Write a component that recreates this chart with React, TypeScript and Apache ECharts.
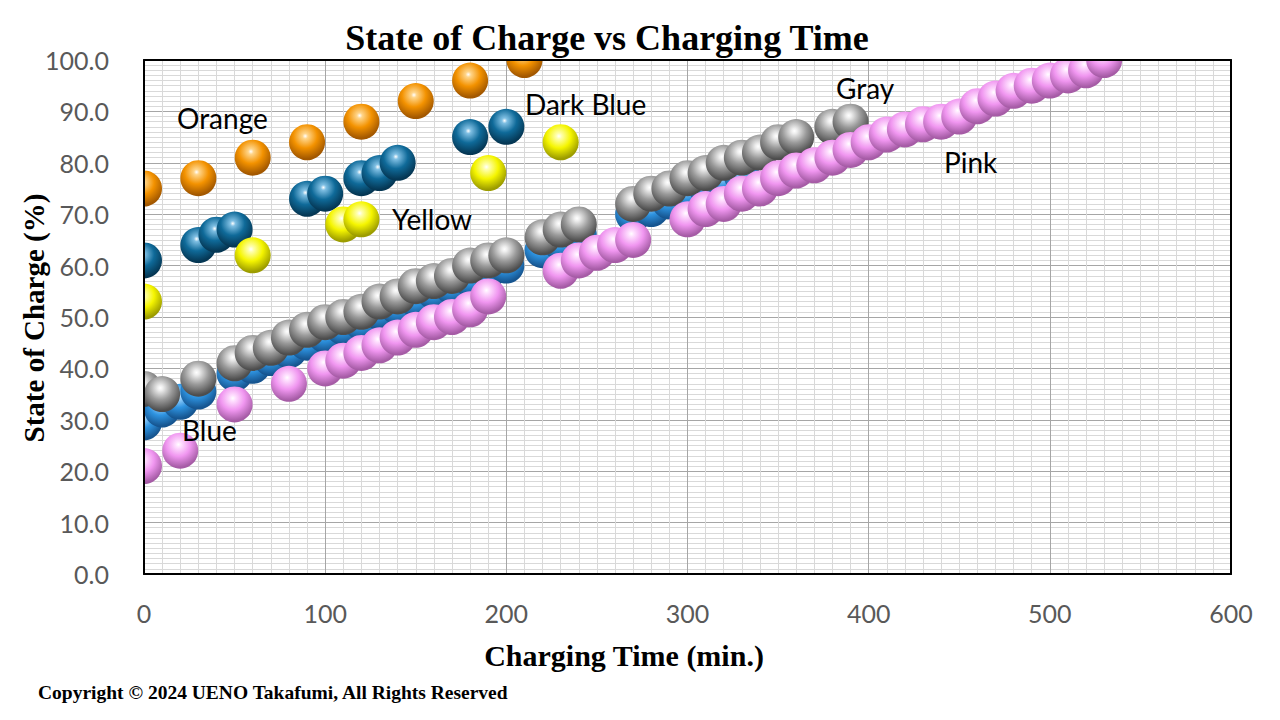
import React, { useEffect, useRef } from "react";
import * as echarts from "echarts";

// ---- data (charging time in min., state of charge in %) ----
const orangeTime = [0, 30, 60, 90, 120, 150, 180, 210];
const orangeSoc = [75, 77, 81, 84, 88, 92, 96, 100];

const darkBlueTime = [0, 30, 40, 50, 90, 100, 120, 130, 140, 180, 200];
const darkBlueSoc = [61, 64, 66, 67, 73, 74, 77, 78, 80, 85, 87];

const yellowTime = [0, 60, 110, 120, 190, 230];
const yellowSoc = [53, 62, 68, 69, 78, 84];

const blueTime = [0, 10, 20, 30, 50, 60, 70, 80, 90, 100, 110, 120, 130, 140, 150, 160, 170, 180, 190, 200, 220, 230, 240, 270, 280, 290, 300, 310, 320, 330];
const blueSoc = [29.5, 32, 33.5, 35.5, 39, 40.5, 42, 43.5, 45, 46.5, 48, 49, 51, 52, 53.5, 55, 56, 57.5, 59, 60, 63, 64.5, 66, 70, 71, 72.5, 74, 75.5, 76.5, 77.5];

const grayTime = [0, 10, 30, 50, 60, 70, 80, 90, 100, 110, 120, 130, 140, 150, 160, 170, 180, 190, 200, 220, 230, 240, 270, 280, 290, 300, 310, 320, 330, 340, 350, 360, 380, 390];
const graySoc = [36, 35, 38, 41, 43, 44, 46, 47.5, 49, 50, 51, 53, 54, 56, 57, 58, 60, 61, 62, 65.5, 67, 68, 72, 74, 75, 77, 78, 80, 81, 82, 84, 85, 87, 88];

const pinkTime = [0, 20, 50, 80, 100, 110, 120, 130, 140, 150, 160, 170, 180, 190, 230, 240, 250, 260, 270, 300, 310, 320, 330, 340, 350, 360, 370, 380, 390, 400, 410, 420, 430, 440, 450, 460, 470, 480, 490, 500, 510, 520, 530];
const pinkSoc = [21, 24, 33, 37, 40, 41.5, 43, 44.5, 46, 47.5, 49, 50, 51.5, 54, 59, 61, 62.5, 64, 65, 69, 71, 72, 74, 75, 77, 78.5, 79.5, 81, 82.5, 84, 85.5, 86.5, 87.5, 88, 89, 91, 92.5, 94, 95, 96, 97, 98, 100];

const xTicks = { min: 0, max: 600, interval: 100 };
const yTicks = { min: 0, max: 100, interval: 10 };

const pairs = (t: number[], s: number[]) => t.map((x, i) => [x, s[i]]);

const R = 18;

function sphere(light: string, base: string, dark: string) {
  return new echarts.graphic.RadialGradient(0.45, 0.33, 0.74, [
    { offset: 0, color: "#ffffff" },
    { offset: 0.1, color: light },
    { offset: 0.45, color: base },
    { offset: 0.85, color: dark },
    { offset: 1, color: dark },
  ]);
}

function ballSeries(name: string, t: number[], s: number[], fill: any) {
  return {
    type: "custom",
    name,
    clip: true,
    xAxisIndex: 0,
    yAxisIndex: 0,
    data: pairs(t, s),
    encode: { x: 0, y: 1 },
    renderItem: (params: any, api: any) => {
      const p = api.coord([api.value(0), api.value(1)]);
      return {
        type: "circle",
        shape: { cx: p[0], cy: p[1], r: R },
        style: { fill },
      };
    },
  };
}

const labelFont = '28px Lato, "Open Sans", sans-serif';
const serif = '"Liberation Serif", "DejaVu Serif", serif';

function borderAxis(extra: any) {
  return {
    type: "value",
    gridIndex: 0,
    z: 10,
    axisLine: { show: true, onZero: false, lineStyle: { color: "#000", width: 2 } },
    axisTick: { show: false },
    axisLabel: { show: false },
    splitLine: { show: false },
    ...extra,
  };
}

export default function App() {
  const ref = useRef<HTMLDivElement>(null);
  useEffect(() => {
    document.body.style.margin = "0";
    const chart = echarts.init(ref.current!, null, { renderer: "svg" });
    const tickLabel = { fontFamily: 'Lato, "Open Sans", sans-serif', fontSize: 25, color: "#595959" };
    chart.setOption({
      animation: false,
      backgroundColor: "#ffffff",
      grid: { left: 144, top: 60, width: 1087, height: 514, containLabel: false },
      xAxis: [
        {
          type: "value",
          ...xTicks,
          axisLine: { show: false },
          axisTick: { show: false },
          axisLabel: { ...tickLabel, margin: 26 },
          splitLine: { show: true, showMinLine: false, showMaxLine: false, lineStyle: { color: "#a6a6a6", width: 1 } },
          minorTick: { show: false, splitNumber: 10 },
          minorSplitLine: { show: true, lineStyle: { color: "#d9d9d9", width: 1 } },
        },
        borderAxis({ position: "top", ...xTicks }),
        borderAxis({ position: "bottom", ...xTicks }),
      ],
      yAxis: [
        {
          type: "value",
          ...yTicks,
          axisLine: { show: false },
          axisTick: { show: false },
          axisLabel: { ...tickLabel, margin: 35, formatter: (v: number) => v.toFixed(1) },
          splitLine: { show: true, showMinLine: false, showMaxLine: false, lineStyle: { color: "#a6a6a6", width: 1 } },
          minorTick: { show: false, splitNumber: 10 },
          minorSplitLine: { show: true, lineStyle: { color: "#d9d9d9", width: 1 } },
        },
        borderAxis({ position: "right", ...yTicks }),
        borderAxis({ position: "left", ...yTicks }),
      ],
      series: [
        ballSeries("Orange", orangeTime, orangeSoc, sphere("#ffd58a", "#f39200", "#a35800")),
        ballSeries("Dark Blue", darkBlueTime, darkBlueSoc, sphere("#7fbfe3", "#0f6a99", "#053754")),
        ballSeries("Yellow", yellowTime, yellowSoc, sphere("#ffffb0", "#f5f500", "#9c9c00")),
        ballSeries("Blue", blueTime, blueSoc, sphere("#a6d8ff", "#2e93e0", "#165590")),
        ballSeries("Gray", grayTime, graySoc, sphere("#eeeeee", "#9a9a9a", "#4d4d4d")),
        ballSeries("Pink", pinkTime, pinkSoc, sphere("#ffe2ff", "#f096f0", "#a65ca6")),
      ],
      graphic: [
        { type: "text", z: 100, x: 607, y: 38, style: { text: "State of Charge vs Charging Time", font: `bold 36px ${serif}`, fill: "#000", textAlign: "center", textVerticalAlign: "middle" } },
        { type: "text", z: 100, x: 624, y: 655, style: { text: "Charging Time (min.)", font: `bold 30px ${serif}`, fill: "#000", textAlign: "center", textVerticalAlign: "middle" } },
        { type: "text", z: 100, x: 34, y: 318, rotation: Math.PI / 2, style: { text: "State of Charge (%)", font: `bold 29px ${serif}`, fill: "#000", textAlign: "center", textVerticalAlign: "middle" } },
        { type: "text", z: 100, x: 38, y: 692, style: { text: "Copyright © 2024 UENO Takafumi, All Rights Reserved", font: `bold 19.5px ${serif}`, fill: "#000", textAlign: "left", textVerticalAlign: "middle" } },
        { type: "text", z: 100, x: 177, y: 118, style: { text: "Orange", font: labelFont, fill: "#000", textAlign: "left", textVerticalAlign: "middle" } },
        { type: "text", z: 100, x: 525, y: 104, style: { text: "Dark Blue", font: labelFont, fill: "#000", textAlign: "left", textVerticalAlign: "middle" } },
        { type: "text", z: 100, x: 392, y: 219, style: { text: "Yellow", font: labelFont, fill: "#000", textAlign: "left", textVerticalAlign: "middle" } },
        { type: "text", z: 100, x: 182, y: 430, style: { text: "Blue", font: labelFont, fill: "#000", textAlign: "left", textVerticalAlign: "middle" } },
        { type: "text", z: 100, x: 836, y: 88, style: { text: "Gray", font: labelFont, fill: "#000", textAlign: "left", textVerticalAlign: "middle" } },
        { type: "text", z: 100, x: 944, y: 162, style: { text: "Pink", font: labelFont, fill: "#000", textAlign: "left", textVerticalAlign: "middle" } },
      ],
    });
    return () => chart.dispose();
  }, []);
  return <div ref={ref} style={{ width: 1280, height: 720 }} />;
}
